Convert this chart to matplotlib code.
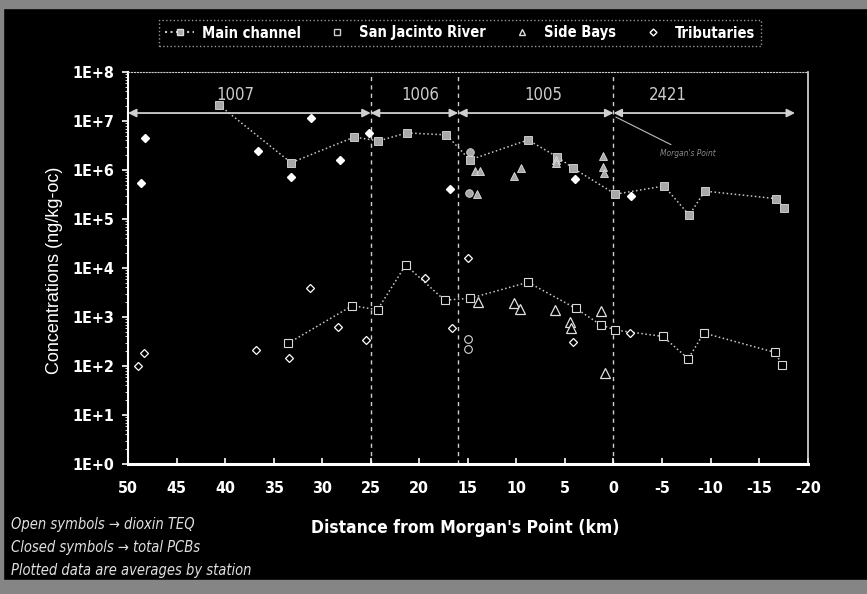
import matplotlib
matplotlib.use("Agg")
import matplotlib.pyplot as plt
from matplotlib import font_manager
from matplotlib.lines import Line2D
from matplotlib.patches import Rectangle
from matplotlib.ticker import FixedLocator, LogLocator, NullFormatter

# narrow face like the original (Arial Narrow); fall back to condensed DejaVu
installed = {f.name for f in font_manager.fontManager.ttflist}
narrow = [n for n in ["Liberation Sans Narrow", "Arial Narrow"] if n in installed]
if narrow:
    plt.rcParams['font.family'] = [narrow[0], 'DejaVu Sans']
else:
    plt.rcParams['font.family'] = ['DejaVu Sans']
    plt.rcParams['font.stretch'] = 'condensed'

# main channel, closed = total PCBs, open = dioxin TEQ
main_pcb_x = [40.6, 33.2, 26.7, 24.2, 21.3, 17.2, 14.8, 8.8, 5.8, 4.2, -0.2, -5.2, -7.8, -9.4, -16.7, -17.6]
main_pcb_y = [2.1e7, 1.4e6, 4.7e6, 3.9e6, 5.7e6, 5.2e6, 1.6e6, 4.1e6, 1.85e6, 1.1e6, 3.2e5, 4.7e5, 1.2e5, 3.7e5, 2.6e5, 1.7e5]
main_teq_x = [33.5, 26.9, 24.3, 21.4, 17.4, 14.8, 8.8, 3.9, 1.3, -0.2, -5.1, -7.7, -9.3, -16.6, -17.4]
main_teq_y = [290, 1.7e3, 1.4e3, 1.15e4, 2.2e3, 2.4e3, 5.1e3, 1.5e3, 690, 540, 400, 140, 470, 190, 105]

sjr_pcb_x = [14.8, 14.9]
sjr_pcb_y = [2.3e6, 3.4e5]
sjr_teq_x = [15.0, 15.0]
sjr_teq_y = [350, 220]

bay_pcb_x = [14.3, 13.7, 14.1, 10.2, 9.5, 5.9, 5.9, 1.1, 1.1, 1.0]
bay_pcb_y = [9.5e5, 9.5e5, 3.2e5, 7.6e5, 1.1e6, 1.6e6, 1.4e6, 1.9e6, 1.15e6, 8.5e5]
bay_teq_x = [14.0, 10.2, 9.6, 6.0, 4.5, 4.4, 1.3, 0.9]
bay_teq_y = [2.0e3, 1.9e3, 1.45e3, 1.4e3, 790, 600, 1.3e3, 72]

trib_pcb_x = [48.2, 48.7, 36.6, 33.2, 31.1, 28.2, 25.2, 16.8, 4.0, -1.8]
trib_pcb_y = [4.5e6, 5.4e5, 2.4e6, 7.2e5, 1.15e7, 1.6e6, 5.7e6, 4.0e5, 6.6e5, 2.9e5]
trib_teq_x = [49.0, 48.3, 36.8, 33.4, 31.3, 28.4, 25.5, 19.4, 16.6, 15.0, 4.2, -1.7]
trib_teq_y = [100, 185, 210, 145, 3.9e3, 630, 340, 6.3e3, 600, 1.6e4, 310, 470]

segments = ["1007", "1006", "1005", "2421"]
seg_bounds = [(50, 25), (25, 16), (16, 0), (0, -18.7)]
seg_label_x = [38.9, 19.9, 7.2, -5.6]
dividers = [25, 16, 0]

fg = "white"
gray = "#a8a8a8"

fig = plt.figure(figsize=(8.67, 5.94), dpi=100, facecolor="black")
ax = fig.add_axes([0.1476, 0.2189, 0.784, 0.660], facecolor="black")

# scanned frame
fig.patches.append(Rectangle((0, 1 - 8 / 594), 1, 8 / 594, transform=fig.transFigure, color="#858585", zorder=0))
fig.patches.append(Rectangle((0, 0), 1, 14 / 594, transform=fig.transFigure, color="#858585", zorder=0))
fig.patches.append(Rectangle((0, 0), 3 / 867, 1, transform=fig.transFigure, color="#858585", zorder=0))

ax.set_yscale("log")
ax.set_ylim(1, 1e8)
ax.set_xlim(50, -20)

for xd in dividers:
    ax.axvline(xd, color="#cfcfcf", ls=(0, (3, 3)), lw=1, zorder=1)

ax.plot(main_pcb_x, main_pcb_y, ls=":", color="#c8c8c8", lw=1.1, marker="s", ms=5.5,
        mfc=gray, mec="#dddddd", mew=0.6, zorder=3)
ax.plot(main_teq_x, main_teq_y, ls=":", color="#c8c8c8", lw=1.1, marker="s", ms=5.5,
        mfc="black", mec="#d8d8d8", mew=0.8, zorder=3)
ax.plot(sjr_pcb_x, sjr_pcb_y, ls="none", marker="o", ms=5.5, mfc=gray, mec="#dddddd", mew=0.6, zorder=4)
ax.plot(sjr_teq_x, sjr_teq_y, ls="none", marker="o", ms=5.5, mfc="black", mec="#d8d8d8", mew=0.8, zorder=4)
ax.plot(bay_pcb_x, bay_pcb_y, ls="none", marker="^", ms=6, mfc=gray, mec="#e0e0e0", mew=0.6, zorder=4)
ax.plot(bay_teq_x, bay_teq_y, ls="none", marker="^", ms=6.5, mfc="black", mec="#e0e0e0", mew=0.9, zorder=4)
ax.plot(trib_pcb_x, trib_pcb_y, ls="none", marker="D", ms=4.5, mfc="white", mec="white", zorder=4)
ax.plot(trib_teq_x, trib_teq_y, ls="none", marker="D", ms=4.5, mfc="black", mec="white", mew=0.9, zorder=4)

# segment arrows
for (x0, x1), name, lx in zip(seg_bounds, segments, seg_label_x):
    ax.annotate("", xy=(x1, 1.45e7), xytext=(x0, 1.45e7),
                arrowprops=dict(arrowstyle="<|-|>", color="#d0d0d0", lw=1.3,
                                shrinkA=0, shrinkB=0, mutation_scale=12), zorder=5)
    ax.text(lx, 3.4e7, name, color="#cccccc", fontsize=12, ha="center", va="center")

ax.annotate("Morgan's Point", xy=(-0.25, 1.2e7), xytext=(-4.8, 2.2e6), color="#8a8a8a",
            fontsize=6, style="italic", ha="left", va="center",
            arrowprops=dict(arrowstyle="-", color="#bbbbbb", lw=0.8, shrinkA=2, shrinkB=0))

ax.xaxis.set_major_locator(FixedLocator(list(range(50, -25, -5))))
ax.yaxis.set_minor_locator(LogLocator(base=10, subs=range(2, 10), numticks=12))
ax.yaxis.set_minor_formatter(NullFormatter())
ax.set_yticks([10.0 ** k for k in range(9)])
ax.set_yticklabels(["1E+%d" % k for k in range(9)])
ax.set_xticklabels([str(v) for v in range(50, -25, -5)])
ax.tick_params(colors=fg, labelcolor=fg, labelsize=11.5, width=1.2)
ax.tick_params(axis="x", direction="in", length=4, pad=12)
ax.tick_params(axis="y", which="major", direction="out", length=4, pad=6)
ax.tick_params(axis="y", which="minor", direction="out", length=2, color=fg)
for lab in ax.get_xticklabels() + ax.get_yticklabels():
    lab.set_fontweight("bold")

ax.spines["left"].set_color(fg)
ax.spines["left"].set_linewidth(1.5)
ax.spines["bottom"].set_color(fg)
ax.spines["bottom"].set_linewidth(2.2)
ax.spines["top"].set_color("#cccccc")
ax.spines["top"].set_linestyle(":")
ax.spines["right"].set_color("#dddddd")
ax.spines["right"].set_linestyle((0, (6, 1)))
ax.spines["right"].set_linewidth(1.2)

fig.text(0.063, 0.545, "Concentrations (ng/kg-oc)", rotation=90, color=fg, fontsize=13,
         ha="center", va="center", family=["Liberation Sans", "DejaVu Sans"], stretch="normal")
fig.text(0.537, 0.111, "Distance from Morgan's Point (km)", color=fg, fontsize=12.5,
         fontweight="bold", ha="center", va="center")

notes = ["Open symbols \u2192 dioxin TEQ", "Closed symbols \u2192 total PCBs",
         "Plotted data are averages by station"]
for i, note in enumerate(notes):
    fig.text(0.013, 1 - (525 + 22.5 * i) / 594, note, color="#e0e0e0", fontsize=10.5,
             style="italic", ha="left", va="center")

handles = [
    Line2D([], [], ls=":", color="#c8c8c8", marker="s", ms=5, mfc=gray, mec="#dddddd"),
    Line2D([], [], ls="none", marker="s", ms=4, mfc="black", mec="#cccccc"),
    Line2D([], [], ls="none", marker="^", ms=5, mfc="black", mec="#dddddd"),
    Line2D([], [], ls="none", marker="D", ms=3.5, mfc="black", mec="white"),
]
labels = ["Main channel", "San Jacinto River", "Side Bays", "Tributaries"]
leg = fig.legend(handles, labels, loc="center", ncol=4, mode="expand",
                 bbox_to_anchor=(152 / 867, 1 - 53 / 594, 616 / 867, 40 / 594),
                 frameon=True, fancybox=False, facecolor="black", edgecolor="#bbbbbb",
                 handlelength=2.0, handletextpad=0.5, columnspacing=1.5,
                 prop={"weight": "bold", "size": 10.5})
leg.get_frame().set_linestyle(":")
for t in leg.get_texts():
    t.set_color(fg)

fig.savefig("out.png", dpi=100, facecolor="black")
